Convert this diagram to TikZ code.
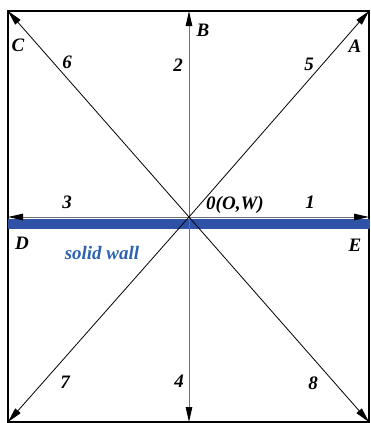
\documentclass[tikz,border=0pt]{standalone}
\usepackage{fontspec}
\setmainfont{Liberation Serif}
\usepackage{tikz}
\usetikzlibrary{arrows.meta,positioning,calc}
\usepackage{xcolor}
\definecolor{wallblue}{RGB}{46,82,166}
\definecolor{textblue}{RGB}{45,98,178}
\definecolor{axisgray}{RGB}{110,110,110}

\begin{document}
\begin{tikzpicture}[
  x=1pt,y=-1pt,
  lbl/.style={font=\fontsize{19}{19}\selectfont\bfseries\itshape,inner sep=1pt},
  diag/.style={-{Triangle[length=15pt,width=7pt]},draw=black,line width=0.8pt},
  axis/.style={-{Triangle[length=15pt,width=6.5pt,black]},draw=axisgray,line width=1pt},
]
\useasboundingbox (0,0) rectangle (370,423);

%% Frame and end points
\draw[line width=1.2pt] (8,11) rectangle (369,422);
\coordinate (O)  at (189,217);
\coordinate (pA) at (369,11);
\coordinate (pB) at (189,11);
\coordinate (pC) at (8,11);
\coordinate (pD) at (8,217);
\coordinate (pE) at (369,217);
\coordinate (pF) at (8,422);
\coordinate (pG) at (189,422);
\coordinate (pH) at (369,422);

% Solid wall
\fill[wallblue] (8,219) rectangle (370,229);

% Axis arrows
\draw[axis] (O) -- (pB);
\draw[axis] (O) -- (pD);
\draw[axis] (O) -- (pE);
\draw[axis] (O) -- (pG);

% Diagonal arrows
\draw[diag] (O) -- (pA);
\draw[diag] (O) -- (pC);
\draw[diag] (O) -- (pF);
\draw[diag] (O) -- (pH);

% Corner letters
\node[lbl] (A) at (355,46) {A};
\node[lbl] (B) at (203,30) {B};
\node[lbl] (C) at (18,45)  {C};
\node[lbl] (D) at (22,243) {D};
\node[lbl] (E) at (355,245) {E};

% Direction numbers
\node[lbl] (n1) at (310,202) {1};
\node[lbl] (n2) at (178,65)  {2};
\node[lbl] (n3) at (67,202)  {3};
\node[lbl] (n4) at (179,381) {4};
\node[lbl] (n5) at (309,64)  {5};
\node[lbl] (n6) at (67,62)   {6};
\node[lbl] (n7) at (65,382)  {7};
\node[lbl] (n8) at (313,383) {8};
\node[lbl] (n0) at (235,205) {0(O,W)};

\node[lbl,textblue] (wall) at (102,253) {solid wall};

\end{tikzpicture}
\end{document}
